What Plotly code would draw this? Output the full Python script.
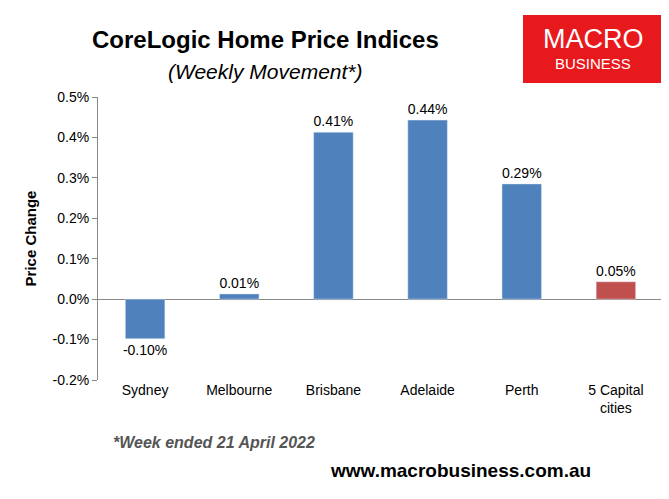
import plotly.graph_objects as go

cities = ["Sydney", "Melbourne", "Brisbane", "Adelaide", "Perth", "5 Capital<br>cities"]
values = [-0.098, 0.013, 0.413, 0.443, 0.285, 0.043]
labels = ["-0.10%", "0.01%", "0.41%", "0.44%", "0.29%", "0.05%"]
colors = ["#4F81BD"] * 5 + ["#C0504D"]
tickvals = [-0.2, -0.1, 0.0, 0.1, 0.2, 0.3, 0.4, 0.5]
ticktext = ["-0.2%", "-0.1%", "0.0%", "0.1%", "0.2%", "0.3%", "0.4%", "0.5%"]

DX, DY = 5, 7  # observed page offset
L, R, T, B = 90, 14, 89, 127
W, H = 669, 499
pw, ph = W - L - R, H - T - B
def px(x): return (x - DX - L) / pw
def py(y): return (H - B - (y - DY)) / ph

fig = go.Figure(go.Bar(x=cities, y=values, marker_color=colors, width=0.42,
                       text=labels, textposition="outside", cliponaxis=False, constraintext="none",
                       textfont=dict(size=14, color="black")))
ann = lambda text, x, y, size, color="black", xa="center": dict(
    text=text, x=px(x), y=py(y), xref="paper", yref="paper", showarrow=False,
    font=dict(size=size, color=color), xanchor=xa, yanchor="middle")
fig.update_layout(
    width=W, height=H, margin=dict(l=L, r=R, t=T, b=B),
    plot_bgcolor="white", paper_bgcolor="white",
    font=dict(family="Liberation Sans, Arial", color="black", size=14),
    showlegend=False,
    xaxis=dict(showline=False, ticks="", tickfont=dict(size=14), automargin=False),
    yaxis=dict(range=[-0.2, 0.5], tickvals=tickvals, ticktext=ticktext, showgrid=False, automargin=False,
               showline=True, linecolor="#888", ticks="outside", ticklen=5, tickcolor="#888",
               zeroline=True, zerolinecolor="#888", zerolinewidth=1,
               title=dict(text="<b>Price Change</b>", font=dict(size=15), standoff=12)),
    shapes=[dict(type="rect", xref="paper", yref="paper", x0=px(520), x1=px(660),
                 y0=py(82), y1=py(14), fillcolor="#E8191C", line=dict(width=0))],
    annotations=[
        ann("<b>CoreLogic Home Price Indices</b>", 262, 38, 24),
        ann("<i>(Weekly Movement*)</i>", 262, 70, 21),
        ann("MACRO", 590, 38, 27, "white"),
        ann("BUSINESS", 590, 62, 15, "white"),
        ann("<b><i>*Week ended 21 April 2022</i></b>", 108, 441, 16, "#555", "left"),
        ann("<b>www.macrobusiness.com.au</b>", 590, 469, 19, "black", "right"),
    ],
)
fig.write_html("out.html")
